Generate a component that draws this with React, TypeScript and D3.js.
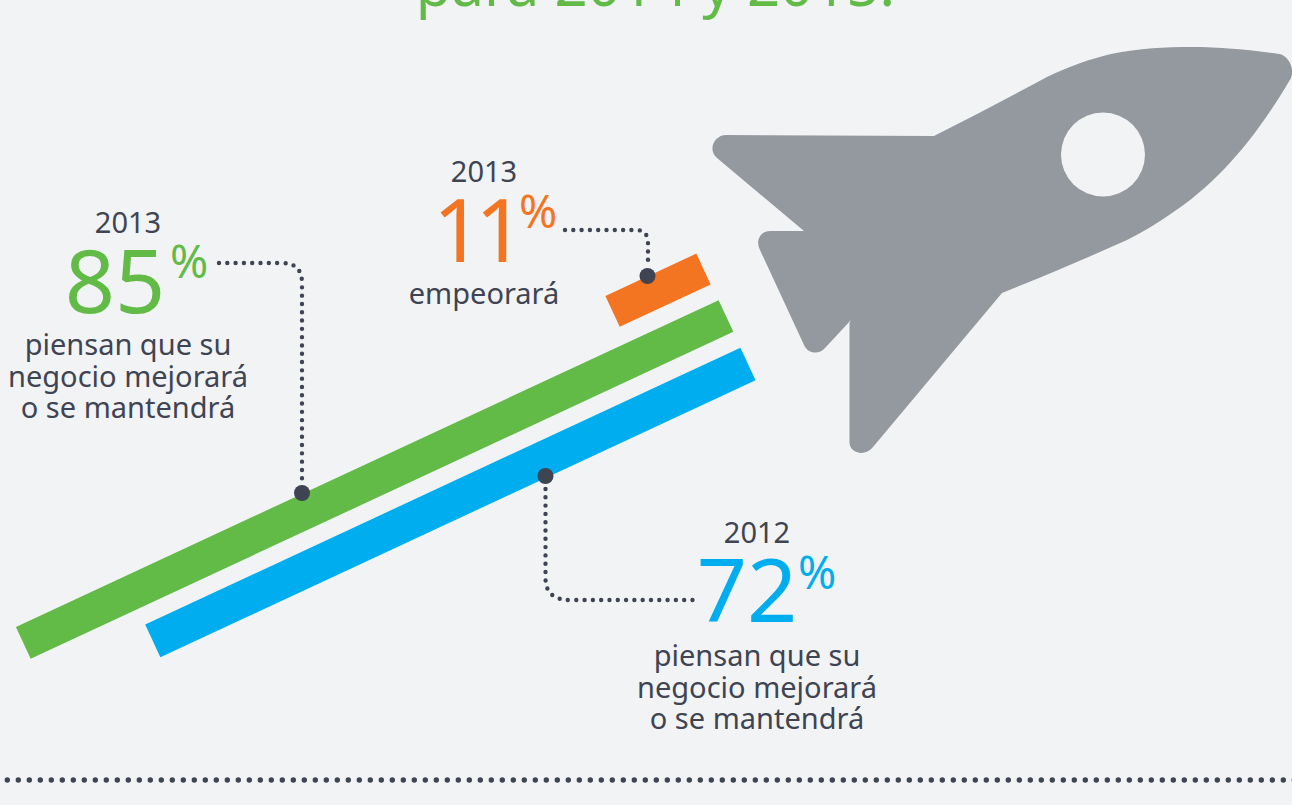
import React from 'react';
import * as d3 from 'd3';

// values
const years = ['2013', '2013', '2012'];
const values = [85, 11, 72];
const barColors = ['#62bb46', '#f47521', '#00aeef'];
const captions = [
  ['piensan que su', 'negocio mejorará', 'o se mantendrá'],
  ['empeorará'],
  ['piensan que su', 'negocio mejorará', 'o se mantendrá'],
];

const WIDTH = 1292;
const HEIGHT = 805;
const DARK = '#3f4452';
const BG = '#f1f3f5';
const FONT = '"Noto Sans", sans-serif';

// bars all lean at the same angle, the right end is where the rocket is
const ANGLE = (Math.atan2(-327, 703) * 180) / Math.PI;
const lengthScale = d3.scaleLinear().domain([0, 85]).range([0, 775]);
const barEnds = [
  [726, 316],
  [703.5, 269],
  [748, 364],
];
const barThickness = [35, 34, 36];

// layout of each annotation block
const blocks = [
  { cx: 128, year: 233, num: 313, pctX: 189, pctY: 278, lines: [355, 387, 418] },
  { cx: 484, year: 182, num: 262, pctX: 538, pctY: 228, lines: [304] },
  { cx: 757, year: 543, num: 622, pctX: 817, pctY: 589, lines: [666, 698, 729] },
];
const numCenters = [115, 475, 747];
const numSpacing = [0, -8, 0];

const leaders = [
  { points: [[219, 263], [282, 263], [302, 263], [302, 283], [302, 483]], dot: [302, 493] },
  { points: [[565, 230], [636, 230], [648, 230], [648, 243], [648, 268]], dot: [647.5, 276] },
  { points: [[545.5, 489], [545.5, 578], [545.5, 600], [570, 600], [698, 600]], dot: [545.5, 476] },
];

const rocketPath =
  'M934 136 C 972 117, 1010 97, 1047 77 C 1070 66, 1090 59, 1111 54 C 1140 48, 1165 47, 1191 47 ' +
  'C 1222 47, 1250 50, 1279 54 C 1288 55, 1295 68, 1291 78 C 1255 140, 1215 185, 1172 213 ' +
  'C 1158 223, 1143 232, 1127 240 C 1085 259, 1044 276, 1002 293 ' +
  'L 873 447 C 864 458, 849 452, 849.5 442 L 849.5 323 L 851 320 L 825 348 C 819 355, 808 354, 804 345 ' +
  'L 760 250 C 755 240, 761 231, 770 231 L 804 231 L 717 158 C 707 149, 715 135, 726 135 Z';

const bottomDots = d3.range(7.3, WIDTH + 4, 11);

export default function App() {
  const leaderPath = (p: number[][]) =>
    `M${p[0][0]} ${p[0][1]} L${p[1][0]} ${p[1][1]} Q${p[2][0]} ${p[2][1]} ${p[3][0]} ${p[3][1]} L${p[4][0]} ${p[4][1]}`;

  return (
    <svg
      width={WIDTH}
      height={HEIGHT}
      style={{ position: 'absolute', left: 0, top: 0, display: 'block' }}
      fontFamily={FONT}
    >
      <rect width={WIDTH} height={HEIGHT} fill={BG} />

      <text x={655.5} y={6} textAnchor="middle" fontSize={58} fill={barColors[0]}>
        para 2014 y 2015.
      </text>

      <path d={rocketPath} fill="#94989f" />
      <ellipse cx={1103} cy={154.5} rx={42} ry={42} fill={BG} />

      {values.map((v, i) => (
        <rect
          key={i}
          x={-lengthScale(v)}
          y={-barThickness[i] / 2}
          width={lengthScale(v)}
          height={barThickness[i]}
          fill={barColors[i]}
          transform={`translate(${barEnds[i][0]},${barEnds[i][1]}) rotate(${ANGLE})`}
        />
      ))}

      {leaders.map((l, i) => (
        <g key={i}>
          <path
            d={leaderPath(l.points)}
            fill="none"
            stroke={DARK}
            strokeWidth={4.4}
            strokeLinecap="round"
            strokeDasharray="0 8.3"
          />
          <circle cx={l.dot[0]} cy={l.dot[1]} r={8} fill={DARK} />
        </g>
      ))}

      {values.map((v, i) => (
        <g key={i} textAnchor="middle">
          <text x={blocks[i].cx} y={blocks[i].year} fontSize={29} fill={DARK}>
            {years[i]}
          </text>
          <text
            x={numCenters[i]}
            y={blocks[i].num}
            fontSize={88}
            letterSpacing={numSpacing[i]}
            fill={barColors[i]}
          >
            {v}
          </text>
          <text x={blocks[i].pctX} y={blocks[i].pctY} fontSize={46} fill={barColors[i]}>
            %
          </text>
          {captions[i].map((c, j) => (
            <text key={j} x={blocks[i].cx} y={blocks[i].lines[j]} fontSize={29} fill={DARK}>
              {c}
            </text>
          ))}
        </g>
      ))}

      {bottomDots.map((x) => (
        <circle key={x} cx={x} cy={780} r={2.7} fill={DARK} />
      ))}
    </svg>
  );
}
